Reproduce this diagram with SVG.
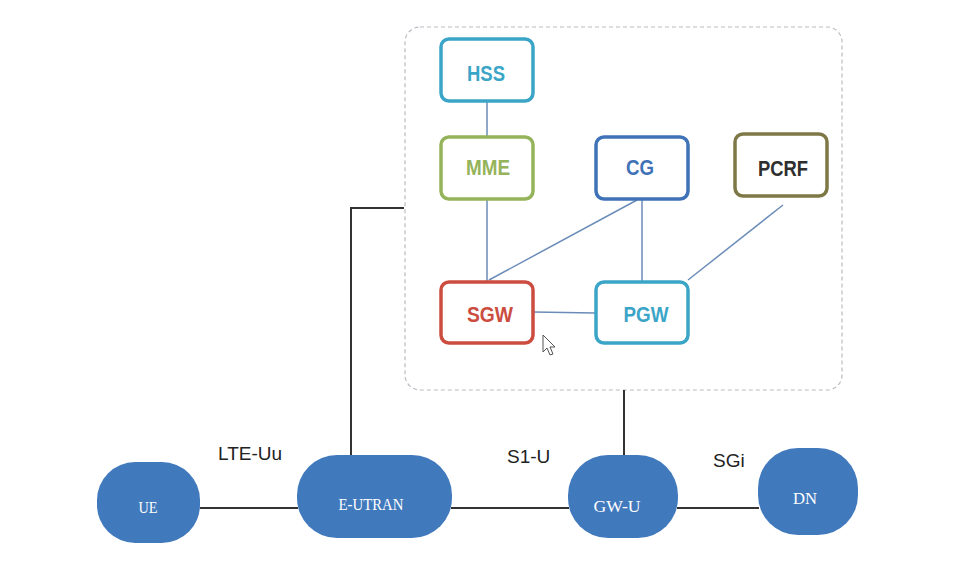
<svg xmlns="http://www.w3.org/2000/svg" width="968" height="562" viewBox="0 0 968 562">
<style>
.box{fill:#fff;stroke-width:3.5}
.bt{font-family:"Liberation Sans",Arial,sans-serif;font-weight:bold;font-size:22px;text-anchor:middle}
.pill{fill:#4179bd}
.pt{font-family:"Liberation Serif","Times New Roman",serif;font-size:17px;fill:#fff;text-anchor:middle}
.lbl{font-family:"Liberation Sans",Arial,sans-serif;font-size:19px;fill:#222}
.cl{stroke:#6b8cb8;stroke-width:1.5;fill:none}
.bl{stroke:#333;stroke-width:2;fill:none}
</style>
<rect width="968" height="562" fill="#fff"/>
<rect id="core" x="405" y="27" width="437" height="363" rx="15" fill="none" stroke="#b8bcc2" stroke-width="1.2" stroke-dasharray="4,3"/>
<g id="connectors">
<line class="cl" x1="487" y1="101" x2="487" y2="137"/>
<line class="cl" x1="487" y1="199" x2="487" y2="281"/>
<line class="cl" x1="637" y1="200" x2="489" y2="280"/>
<line class="cl" x1="642" y1="199" x2="642" y2="281"/>
<line class="cl" x1="783" y1="205" x2="688" y2="280"/>
<line class="cl" x1="534" y1="312" x2="595" y2="313"/>
<polyline class="bl" points="351,455 351,208 404,208"/>
<line class="bl" x1="624" y1="390" x2="624" y2="456"/>
<line class="bl" x1="200" y1="508" x2="298" y2="508"/>
<line class="bl" x1="451" y1="508" x2="569" y2="508"/>
<line class="bl" x1="677" y1="508" x2="759" y2="508"/>
</g>
<g id="HSS"><rect class="box" x="441" y="39" width="92" height="62" rx="8" stroke="#3ba5c8"/><text class="bt" x="486" y="81" fill="#3ba5c8" textLength="38" lengthAdjust="spacingAndGlyphs">HSS</text></g>
<g id="MME"><rect class="box" x="441" y="137" width="92" height="62" rx="8" stroke="#95b35a"/><text class="bt" x="488" y="175" fill="#95b35a" textLength="44" lengthAdjust="spacingAndGlyphs">MME</text></g>
<g id="CG"><rect class="box" x="596" y="137" width="92" height="62" rx="8" stroke="#3f72b6"/><text class="bt" x="640" y="175" fill="#3f72b6" textLength="28" lengthAdjust="spacingAndGlyphs">CG</text></g>
<g id="PCRF"><rect class="box" x="735" y="134" width="92" height="62" rx="8" stroke="#7d7845"/><text class="bt" x="783" y="176" fill="#2e2e2e" textLength="50" lengthAdjust="spacingAndGlyphs">PCRF</text></g>
<g id="SGW"><rect class="box" x="441" y="282" width="92" height="61" rx="8" stroke="#cc4d40"/><text class="bt" x="490" y="322" fill="#cc4d40" textLength="46" lengthAdjust="spacingAndGlyphs">SGW</text></g>
<g id="PGW"><rect class="box" x="596" y="282" width="92" height="61" rx="8" stroke="#3ba5c8"/><text class="bt" x="646" y="322" fill="#3ba5c8" textLength="45" lengthAdjust="spacingAndGlyphs">PGW</text></g>
<g id="cursor"><path d="M543,335 L543,352 L547,348 L550,355 L553,354 L550,347 L555,347 Z" fill="#fff" stroke="#555" stroke-width="1"/></g>
<g id="UE"><rect class="pill" x="97" y="462" width="103" height="81" rx="38"/><text class="pt" x="148" y="513" textLength="19" lengthAdjust="spacingAndGlyphs">UE</text></g>
<g id="E-UTRAN"><rect class="pill" x="297" y="455" width="155" height="83" rx="40"/><text class="pt" x="371" y="510" textLength="65" lengthAdjust="spacingAndGlyphs">E-UTRAN</text></g>
<g id="GW-U"><rect class="pill" x="568" y="455" width="110" height="83" rx="40"/><text class="pt" x="617" y="512" textLength="47" lengthAdjust="spacingAndGlyphs">GW-U</text></g>
<g id="DN"><rect class="pill" x="758" y="448" width="100" height="87" rx="40"/><text class="pt" x="805" y="504" textLength="24" lengthAdjust="spacingAndGlyphs">DN</text></g>
<text class="lbl" x="218" y="460">LTE-Uu</text>
<text class="lbl" x="507" y="463">S1-U</text>
<text class="lbl" x="713" y="467">SGi</text>
</svg>
